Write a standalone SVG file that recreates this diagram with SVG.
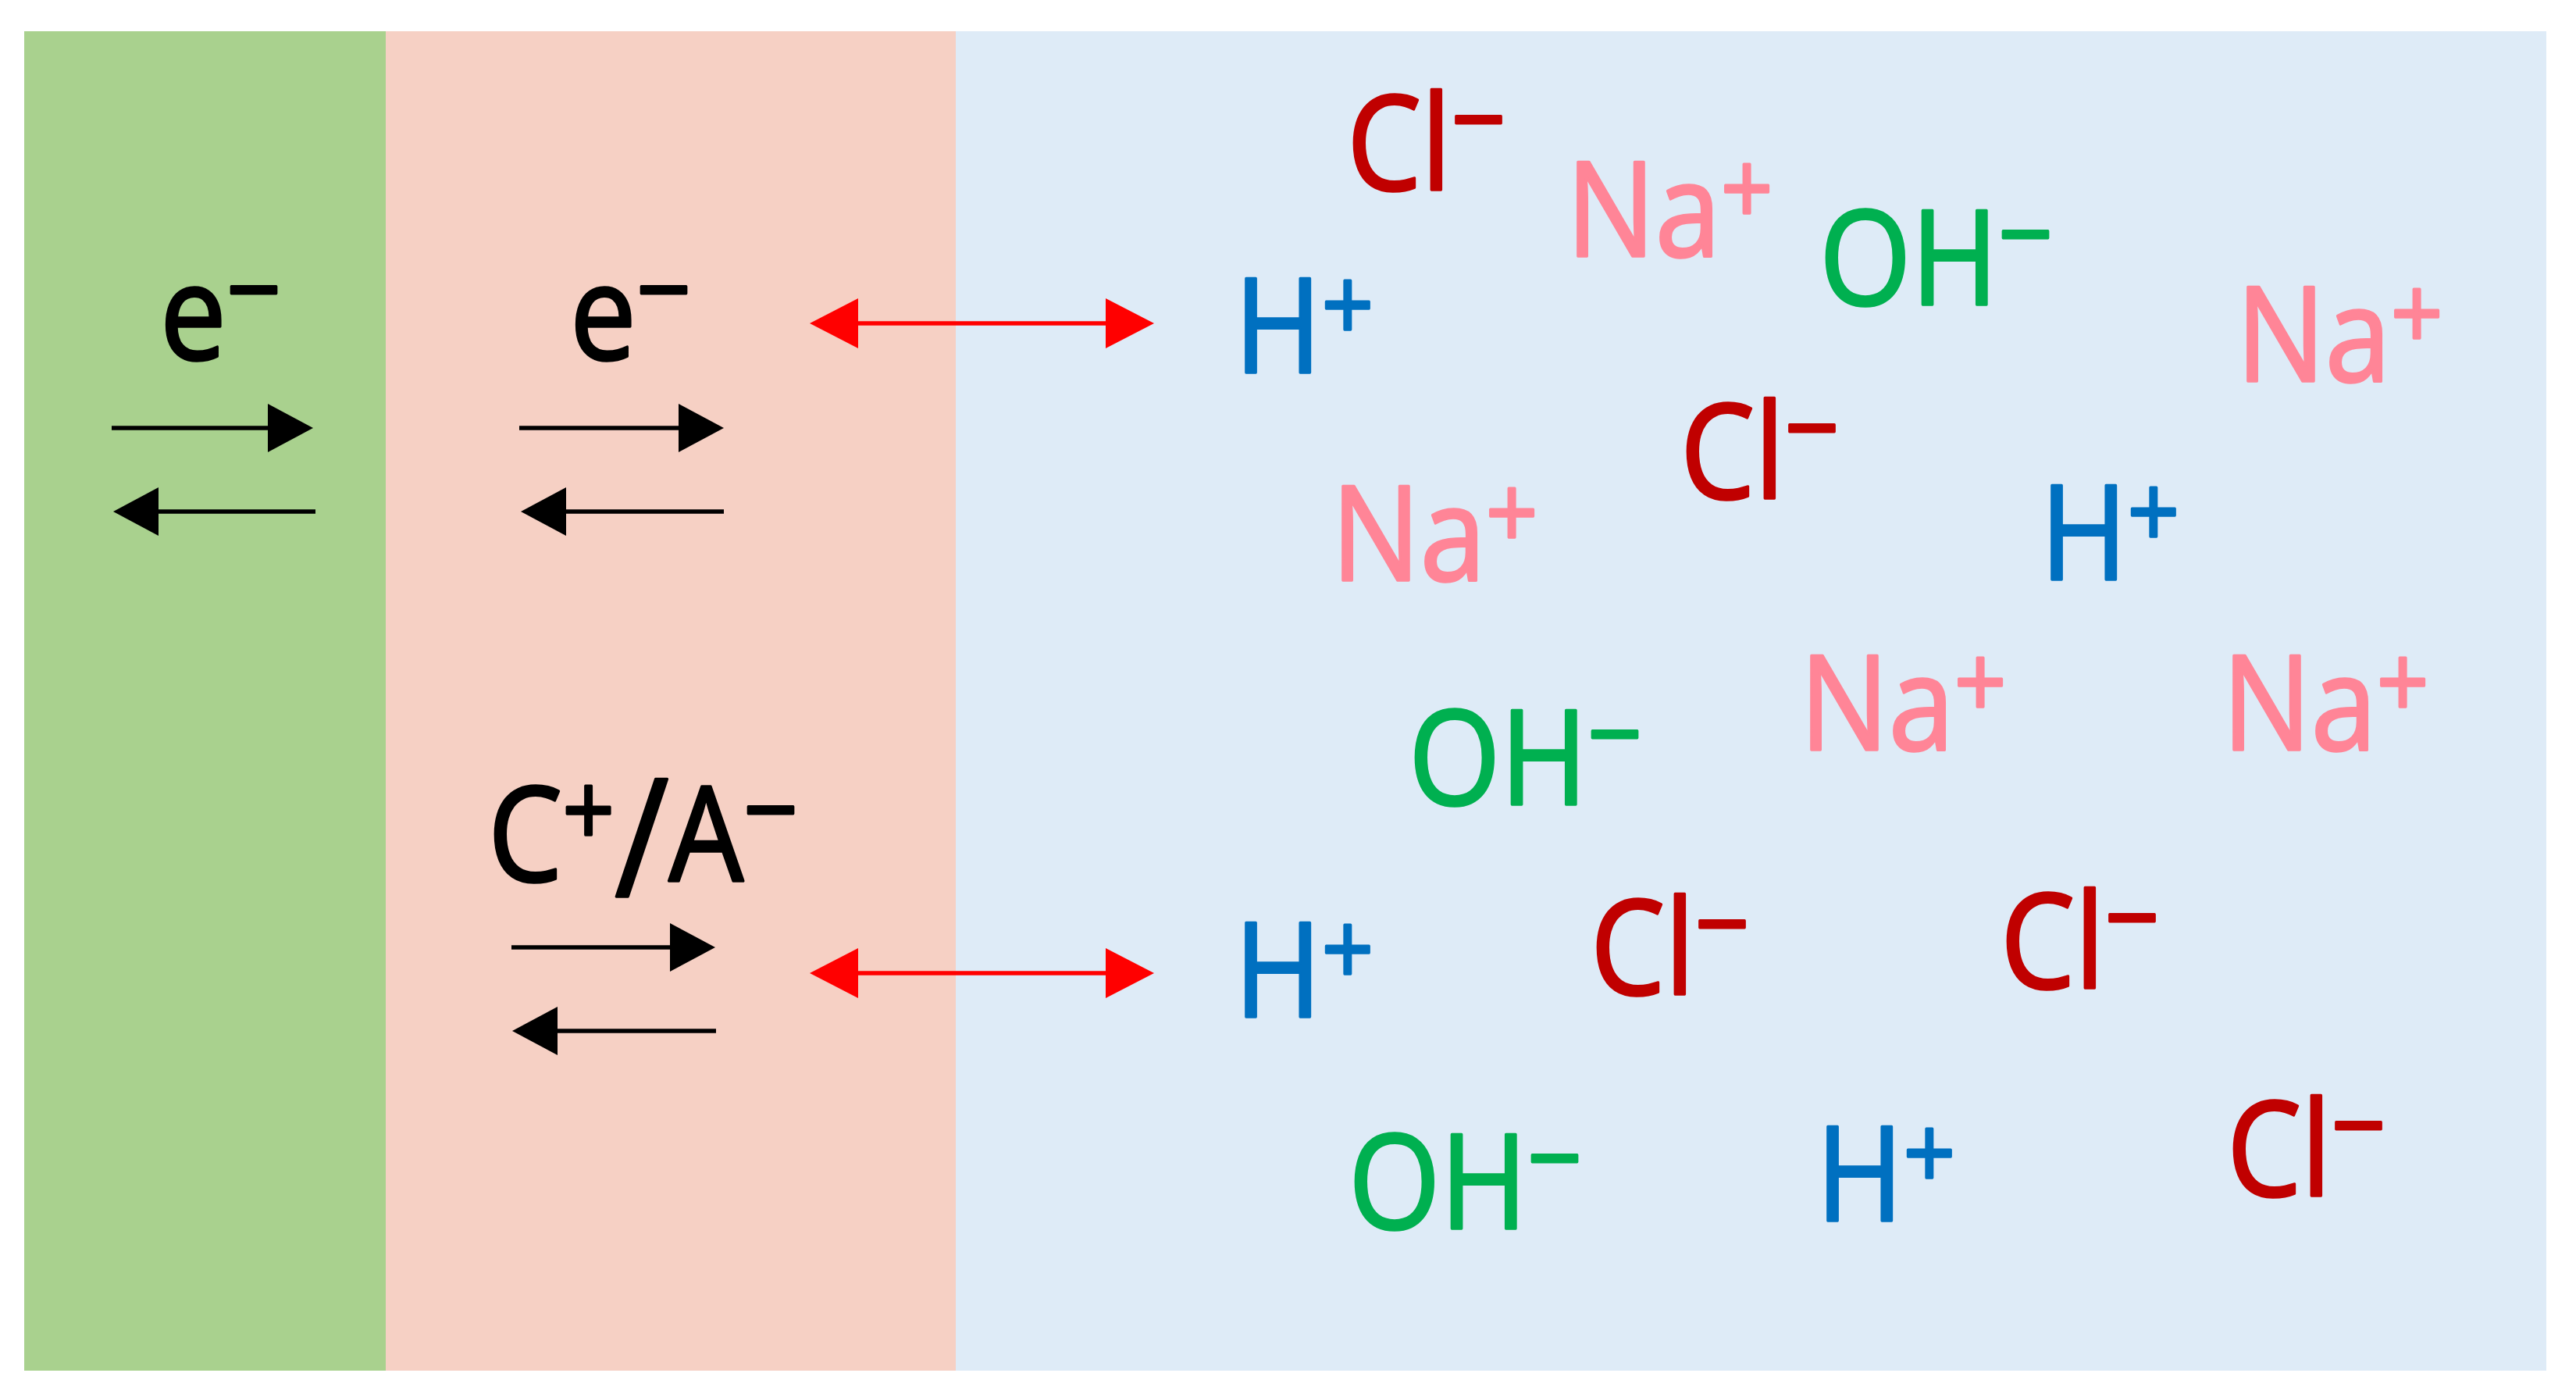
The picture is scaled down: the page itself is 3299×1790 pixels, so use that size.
<svg xmlns="http://www.w3.org/2000/svg" width="3299" height="1790" viewBox="0 0 3299 1790">
<style>
.ion{font-family:"Open Sans","Noto Sans","DejaVu Sans",sans-serif;font-size:168px;stroke-width:3.5;stroke-linejoin:round}
.p{font-size:130px}
.m{font-size:136px}
.sl{font-size:210px}
.cl{fill:#C00000;stroke:#C00000}
.na{fill:#FF8597;stroke:#FF8597}
.oh{fill:#00B050;stroke:#00B050}
.h{fill:#0070C0;stroke:#0070C0}
.k{fill:#000000;stroke:#000000}
.blk{stroke:#000;stroke-width:5.5;fill:none}
.red{stroke:#FF0000;stroke-width:5.5;fill:none}
</style>
<defs>
<marker id="ahK" markerUnits="userSpaceOnUse" viewBox="0 0 58 62" markerWidth="58" markerHeight="62" refX="8" refY="31" orient="auto"><path d="M0,0 L58,31 L0,62 Z" fill="#000"/></marker>
<marker id="ahR" markerUnits="userSpaceOnUse" viewBox="0 0 62 64" markerWidth="62" markerHeight="64" refX="8" refY="32" orient="auto-start-reverse"><path d="M0,0 L62,32 L0,64 Z" fill="#FF0000"/></marker>
</defs>
<rect width="3299" height="1790" fill="#FFFFFF"/>
<g id="regions">
<rect id="electrode" x="31" y="40" width="463" height="1715" fill="#A9D18E"/>
<rect id="coating" x="494" y="40" width="730" height="1715" fill="#F6D0C4"/>
<rect id="electrolyte" x="1224" y="40" width="2037" height="1715" fill="#DEEBF7"/>
</g>
<g id="connectors">
<line class="blk" x1="143" y1="548" x2="351" y2="548" marker-end="url(#ahK)"/>
<line class="blk" x1="404" y1="655" x2="195" y2="655" marker-end="url(#ahK)"/>
<line class="blk" x1="665" y1="548" x2="877" y2="548" marker-end="url(#ahK)"/>
<line class="blk" x1="927" y1="655" x2="717" y2="655" marker-end="url(#ahK)"/>
<line class="blk" x1="655" y1="1213" x2="866" y2="1213" marker-end="url(#ahK)"/>
<line class="blk" x1="917" y1="1320" x2="706" y2="1320" marker-end="url(#ahK)"/>
<line class="red" x1="1091" y1="414" x2="1424" y2="414" marker-start="url(#ahR)" marker-end="url(#ahR)"/>
<line class="red" x1="1091" y1="1246" x2="1424" y2="1246" marker-start="url(#ahR)" marker-end="url(#ahR)"/>
</g>
<g id="label-e-electrode" transform="translate(205,460) scale(0.9,1)"><text class="ion k">e<tspan class="m" dy="-41">−</tspan></text></g>
<g id="label-e-coating" transform="translate(730,460) scale(0.9,1)"><text class="ion k">e<tspan class="m" dy="-41">−</tspan></text></g>
<g id="label-ca" transform="translate(625,1128) scale(0.9,1)"><text class="ion k">C<tspan class="p" dy="-44">+</tspan><tspan class="sl" dy="64">/</tspan><tspan dy="-20">A</tspan><tspan class="m" dy="-43">−</tspan></text></g>
<g id="cl1" transform="translate(1725,243) scale(0.9,1)"><text class="ion cl">Cl<tspan class="m" dy="-42">−</tspan></text></g>
<g id="cl2" transform="translate(2152,638) scale(0.9,1)"><text class="ion cl">Cl<tspan class="m" dy="-42">−</tspan></text></g>
<g id="cl3" transform="translate(2037,1273) scale(0.9,1)"><text class="ion cl">Cl<tspan class="m" dy="-42">−</tspan></text></g>
<g id="cl4" transform="translate(2562,1265) scale(0.9,1)"><text class="ion cl">Cl<tspan class="m" dy="-42">−</tspan></text></g>
<g id="cl5" transform="translate(2852,1531) scale(0.9,1)"><text class="ion cl">Cl<tspan class="m" dy="-42">−</tspan></text></g>
<g id="na1" transform="translate(2006,328) scale(0.9,1)"><text class="ion na">Na<tspan class="p" dy="-40">+</tspan></text></g>
<g id="na2" transform="translate(2864,488) scale(0.9,1)"><text class="ion na">Na<tspan class="p" dy="-40">+</tspan></text></g>
<g id="na3" transform="translate(1705,743) scale(0.9,1)"><text class="ion na">Na<tspan class="p" dy="-40">+</tspan></text></g>
<g id="na4" transform="translate(2305,960) scale(0.9,1)"><text class="ion na">Na<tspan class="p" dy="-40">+</tspan></text></g>
<g id="na5" transform="translate(2846,960) scale(0.9,1)"><text class="ion na">Na<tspan class="p" dy="-40">+</tspan></text></g>
<g id="oh1" transform="translate(2330,390) scale(0.9,1)"><text class="ion oh">OH<tspan class="m" dy="-42">−</tspan></text></g>
<g id="oh2" transform="translate(1804,1030) scale(0.9,1)"><text class="ion oh">OH<tspan class="m" dy="-42">−</tspan></text></g>
<g id="oh3" transform="translate(1727,1573) scale(0.9,1)"><text class="ion oh">OH<tspan class="m" dy="-42">−</tspan></text></g>
<g id="h1" transform="translate(1581,477) scale(0.9,1)"><text class="ion h">H<tspan class="p" dy="-40">+</tspan></text></g>
<g id="h2" transform="translate(2613,742) scale(0.9,1)"><text class="ion h">H<tspan class="p" dy="-40">+</tspan></text></g>
<g id="h3" transform="translate(1581,1302) scale(0.9,1)"><text class="ion h">H<tspan class="p" dy="-40">+</tspan></text></g>
<g id="h4" transform="translate(2326,1563) scale(0.9,1)"><text class="ion h">H<tspan class="p" dy="-40">+</tspan></text></g>
</svg>
